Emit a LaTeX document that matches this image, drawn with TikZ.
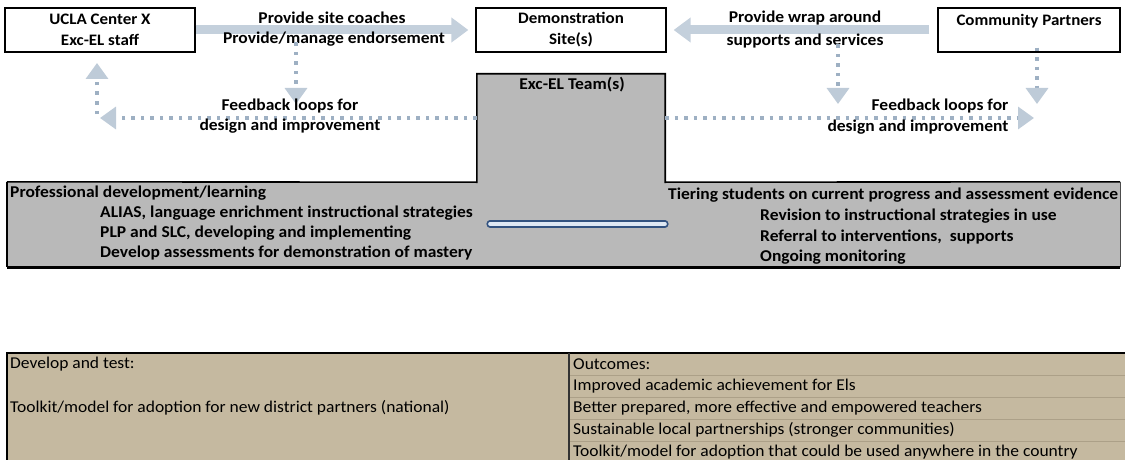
\documentclass[tikz,border=0pt]{standalone}
\usepackage{fontspec}
\setmainfont{Carlito}
\newfontfamily\widecal[FakeStretch=1.06]{Carlito}
\usetikzlibrary{arrows.meta}
\definecolor{flowc}{RGB}{196,208,220}
\definecolor{dotc}{RGB}{158,176,195}
\definecolor{headc}{RGB}{190,203,216}
\definecolor{teamgray}{RGB}{185,185,185}
\definecolor{tanc}{RGB}{197,185,160}
\definecolor{tanline}{RGB}{172,160,136}
\definecolor{linkedge}{RGB}{50,82,128}
\definecolor{linkfill}{RGB}{222,232,244}
\begin{document}
\begin{tikzpicture}[x=1pt,y=-1pt,
  topbox/.style={draw=black, line width=1.3pt, fill=white, minimum width=#1,
    minimum height=44pt, inner sep=0pt, align=center,
    font=\widecal\bfseries\fontsize{16}{21}\selectfont},
  bold/.style={inner sep=0pt, font=\widecal\bfseries\fontsize{16.5}{20}\selectfont},
  plain/.style={inner sep=0pt, anchor=west, font=\widecal\fontsize{16.5}{20}\selectfont},
  barline/.style={bold, anchor=west},
  bigflow/.style={line width=9pt, draw=flowc,
    -{Triangle[width=24pt,length=17pt,fill=flowc]}},
  feedback/.style={line width=3.5pt, draw=dotc, dash pattern=on 3.5pt off 6pt,
    -{Triangle[width=22pt,length=16pt,fill=headc,color=headc]}},
]
\useasboundingbox (0,0) rectangle (1125,460);

% partner boxes along the top
\node[topbox=190pt] (ucla) at (100,30) {UCLA Center X\\Exc-EL staff};
\node[topbox=190pt] (demo) at (571,30) {Demonstration\\Site(s)};
\node[topbox=182pt] (comm) at (1029,30) {Community Partners\\\mbox{}};

% flows between the partners
\draw[bigflow, shorten >=7pt] (ucla.east) -- (demo.west);
\draw[bigflow, shorten <=8pt, shorten >=7pt] (comm.west) -- (demo.east);
\node[bold] (coach) at (332,18) {Provide site coaches};
\node[bold] (endorse) at (334,39) {Provide/manage endorsement};
\node[bold] (wrap) at (805,18) {Provide wrap around};
\node[bold] (serv) at (805,41) {supports and services};

% team block and professional learning / tiering bar
\node[minimum width=188pt, minimum height=108pt, inner sep=0pt] (team) at (571,128) {};
\node[minimum width=1113pt, minimum height=85pt, inner sep=0pt] (bar) at (563.5,224.5) {};
\fill[teamgray] (bar.south west) -- (bar.north west) -- (team.south west)
  -- (team.north west) -- (team.north east) -- (team.south east)
  -- (bar.north east) -- (bar.south east) -- cycle;
\draw[line width=1.6pt] (bar.north west) -- (team.south west) -- (team.north west)
  -- (team.north east) -- (team.south east) -- (bar.north east);
\draw[line width=1.6pt] (bar.north west) -- (bar.south west);
\draw[line width=1.1pt, black!70] (bar.north east) -- (bar.south east);
\draw[line width=2.6pt] (bar.south west) -- (bar.south east);
\node[bold] (teamlbl) at (572,85) {Exc-EL Team(s)};

% feedback loops
\coordinate (upTop) at (97,63);
\coordinate (upBot) at (97,114);
\coordinate (fbL) at (100,118);
\coordinate (fbR) at (1034,118);
\coordinate (dnA) at (296,104);
\coordinate (dnB) at (838,104);
\coordinate (dnC) at (1037,104);
\draw[feedback] (endorse.south -| dnA) ++(0,4pt) -- (dnA);
\draw[feedback] (serv.south -| dnB) ++(0,4pt) -- (dnB);
\draw[feedback] (comm.south -| dnC) ++(0,5pt) -- (dnC);
\draw[feedback] (team.west |- fbL) -- (fbL);
\draw[feedback] (upBot) -- (upTop);
\draw[feedback] (team.east |- fbR) -- (fbR);
\node[bold] (fbL1) at (290,106) {Feedback loops for};
\node[bold] (fbL2) at (290,126) {design and improvement};
\node[bold] (fbR1) at (940,106) {Feedback loops for};
\node[bold] (fbR2) at (918,127) {design and improvement};

% bar contents
\node[barline] (pd) at (10,193) {Professional development/learning};
\node[barline] (pd1) at (100,213) {ALIAS, language enrichment instructional strategies};
\node[barline] (pd2) at (100,233) {PLP and SLC, developing and implementing};
\node[barline] (pd3) at (100,253) {Develop assessments for demonstration of mastery};
\node[barline] (ti) at (668,195) {Tiering students on current progress and assessment evidence};
\node[barline] (ti1) at (760,216) {Revision to instructional strategies in use};
\node[barline] (ti2) at (760,237) {Referral to interventions,\ \ supports};
\node[barline] (ti3) at (760,257) {Ongoing monitoring};
\coordinate (lkL) at (490,224);
\coordinate (lkR) at (665,224);
\draw[line width=1.8pt, draw=linkedge, double=linkfill, double distance=3.6pt,
  line cap=round] (lkL) -- (lkR);

% develop / outcomes table
\fill[tanc] (6,353) rectangle (1125,460);
\foreach \yy in {375,397,419,441}
  \draw[tanline, line width=0.6pt] (569,\yy) -- (1125,\yy);
\draw[line width=1.3pt] (6,353) -- (1125,353);
\draw[line width=2pt] (7,353) -- (7,460);
\draw[line width=1.1pt, black!80] (569,353) -- (569,460);
\node[plain] (dev) at (10,364) {Develop and test:};
\node[plain] (kit) at (10,408) {Toolkit/model for adoption for new district partners (national)};
\node[plain] (out) at (573,364) {Outcomes:};
\node[plain] (o1) at (573,386) {Improved academic achievement for Els};
\node[plain] (o2) at (573,408) {Better prepared, more effective and empowered teachers};
\node[plain] (o3) at (573,430) {Sustainable local partnerships (stronger communities)};
\node[plain] (o4) at (573,452) {Toolkit/model for adoption that could be used anywhere in the country};
\end{tikzpicture}
\end{document}
